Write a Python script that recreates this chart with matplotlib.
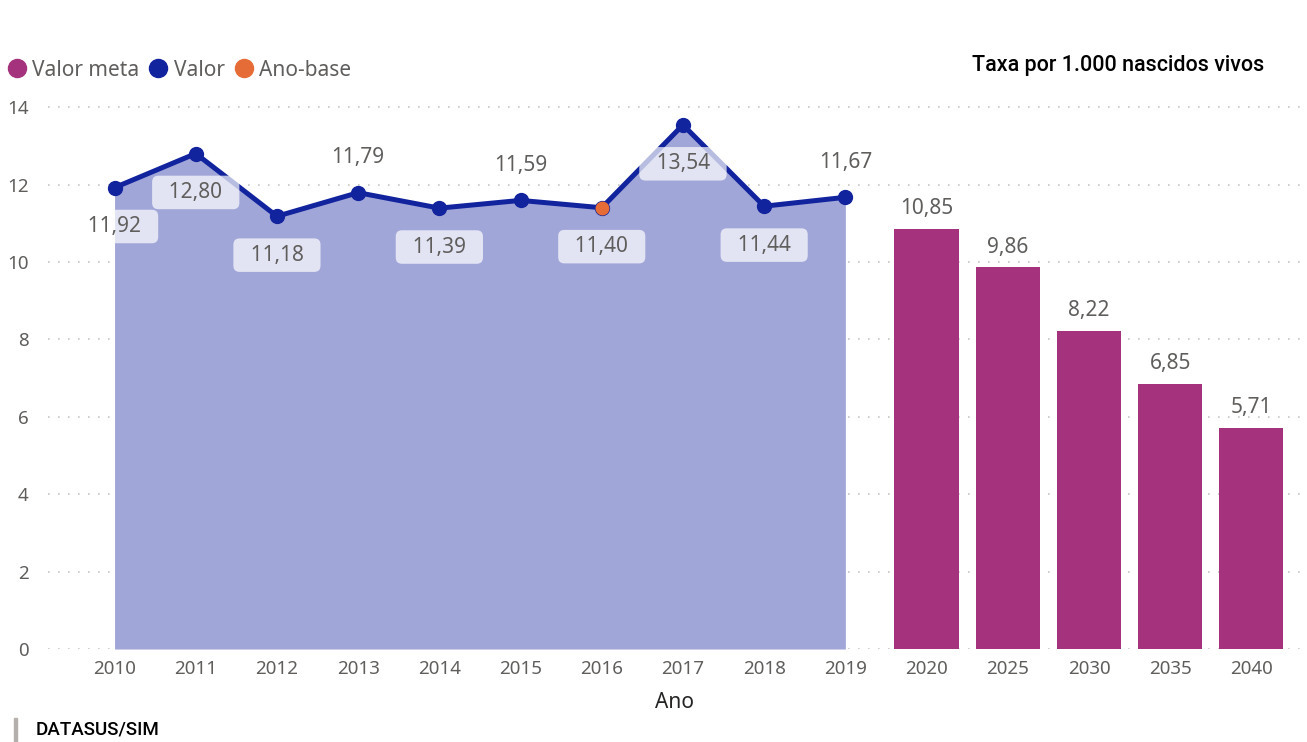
import numpy as np
import matplotlib.pyplot as plt
from matplotlib.lines import Line2D

# dados
anos = ["2010", "2011", "2012", "2013", "2014", "2015", "2016", "2017", "2018", "2019"]
valor = [11.92, 12.80, 11.18, 11.79, 11.39, 11.59, 11.40, 13.54, 11.44, 11.67]
anos_meta = ["2020", "2025", "2030", "2035", "2040"]
valor_meta = [10.85, 9.86, 8.22, 6.85, 5.71]
ano_base = "2016"
# posicao do rotulo: acima (True) ou abaixo (False) do ponto
rotulo_acima = [False, False, False, True, False, True, False, False, False, True]

c_area = "#A1A6D8"
c_linha = "#12239E"
c_base = "#E66C37"
c_meta = "#A4327C"
c_texto = "#605E5C"

plt.rcParams['font.family'] = ['Noto Sans', 'DejaVu Sans']

fig = plt.figure(figsize=(13.07, 7.42), dpi=100)
ax = fig.add_axes([0.0367, 0.1253, 0.958, 0.746])

x_val = np.arange(len(anos))
x_meta = np.arange(len(anos), len(anos) + len(anos_meta))

ax.fill_between(x_val, 0, valor, color=c_area, lw=0, zorder=1)
ax.plot(x_val, valor, color=c_linha, lw=3.6, marker="o", ms=10, zorder=3)
ib = anos.index(ano_base)
ax.plot(x_val[ib], valor[ib], "o", color=c_base, ms=9, zorder=4)

ax.bar(x_meta, valor_meta, width=0.79, color=c_meta, zorder=2)

fmt = lambda v: f"{v:.2f}".replace(".", ",")

for xi, v, acima in zip(x_val, valor, rotulo_acima):
    if acima:
        ax.annotate(fmt(v), (xi, v), xytext=(0, 25), textcoords="offset points",
                    ha="center", va="center", fontsize=15, color=c_texto, zorder=5)
    else:
        ax.annotate("  " + fmt(v) + "  ", (xi, v), xytext=(0, -28), textcoords="offset points",
                    ha="center", va="center", fontsize=15, color=c_texto, zorder=5,
                    bbox=dict(boxstyle="round,pad=0.3,rounding_size=0.3",
                              fc="white", ec="none", alpha=0.7))

for xi, v in zip(x_meta, valor_meta):
    ax.annotate(fmt(v), (xi, v), xytext=(0, 7), textcoords="offset points",
                ha="center", va="bottom", fontsize=15, color=c_texto)

ax.set_xlim(-0.82, 14.6)
ax.set_ylim(0, 14.3)
ax.set_yticks(range(0, 15, 2))
ax.set_xticks(np.arange(len(anos) + len(anos_meta)))
ax.set_xticklabels(anos + anos_meta)
ax.tick_params(length=0, labelsize=13.5, colors=c_texto, pad=8)
ax.tick_params(axis="y", pad=14)
ax.grid(axis="y", color="#C8C6C4", ls=(0, (1, 5)), lw=1.2, zorder=0)
ax.set_axisbelow(True)
for s in ax.spines.values():
    s.set_visible(False)
ax.set_xlabel("Ano", fontsize=15, color="#252423", labelpad=10)

handles = [Line2D([], [], ls="", marker="o", ms=13, color=c) for c in (c_meta, c_linha, c_base)]
fig.legend(handles, ["Valor meta", "Valor", "Ano-base"], loc="upper left",
           bbox_to_anchor=(-0.011, 0.945), ncol=3, frameon=False, fontsize=15,
           handletextpad=0.15, columnspacing=0.3, handlelength=1.2, labelcolor=c_texto)

fig.text(0.967, 0.912, "Taxa por 1.000 nascidos vivos", ha="right", va="center",
         fontsize=15.5, color="#000000", family=["Roboto", "DejaVu Sans"], fontweight="medium")

fig.text(0.027, 0.005, "DATASUS/SIM", ha="left", va="bottom", fontsize=13.5,
         color="#000000", family=["Roboto", "DejaVu Sans"], fontweight="medium")
fig.patches.append(plt.Rectangle((0.0107, 0.0), 0.0025, 0.033, transform=fig.transFigure,
                                 color="#B3B0AD", figure=fig))

fig.savefig("out.png", dpi=100)
